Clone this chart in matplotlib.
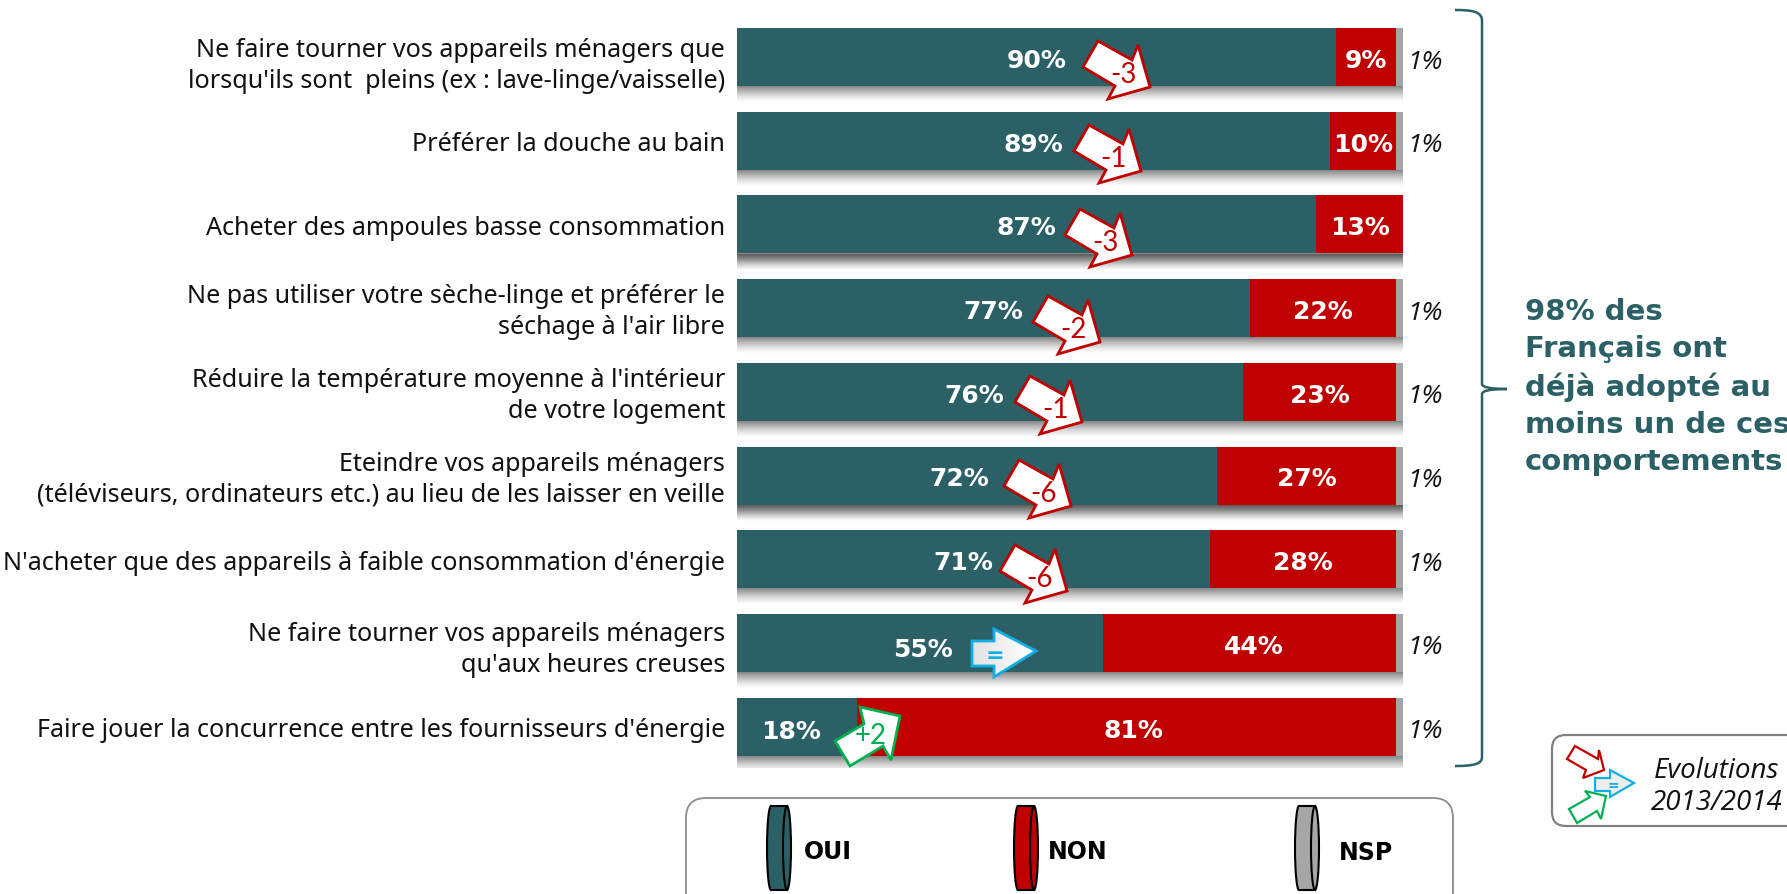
import numpy as np
import matplotlib
matplotlib.use("Agg")
import matplotlib.pyplot as plt
from matplotlib.patches import Polygon, FancyBboxPatch, Ellipse, Rectangle, PathPatch
from matplotlib.path import Path

labels = [
    "Ne faire tourner vos appareils ménagers que\nlorsqu'ils sont  pleins (ex : lave-linge/vaisselle)",
    "Préférer la douche au bain",
    "Acheter des ampoules basse consommation",
    "Ne pas utiliser votre sèche-linge et préférer le\nséchage à l'air libre",
    "Réduire la température moyenne à l'intérieur\nde votre logement",
    "Eteindre vos appareils ménagers\n(téléviseurs, ordinateurs etc.) au lieu de les laisser en veille",
    "N'acheter que des appareils à faible consommation d'énergie",
    "Ne faire tourner vos appareils ménagers\nqu'aux heures creuses",
    "Faire jouer la concurrence entre les fournisseurs d'énergie",
]
oui = [90, 89, 87, 77, 76, 72, 71, 55, 18]
non = [9, 10, 13, 22, 23, 27, 28, 44, 81]
nsp = [1, 1, 0, 1, 1, 1, 1, 1, 1]
evol = ["-3", "-1", "-3", "-2", "-1", "-6", "-6", "=", "+2"]

TEAL = "#2A6066"
RED = "#C00000"
GREY = "#A6A6A6"
BLUE = "#12AEE8"
GREEN = "#00B050"
W, H = 1787, 895
font = "Noto Sans"

fig = plt.figure(figsize=(W / 100, H / 100), dpi=100)

# bars: 0% is at x=737, 100% at x=1403, rows are 83.7px apart
y0 = 29 + 29 - 83.7 / 2
ax = fig.add_axes([737 / W, 1 - (y0 + 9 * 83.7) / H, 666 / W, 9 * 83.7 / H])
ax.set_xlim(0, 100)
ax.set_ylim(8.5, -0.5)
ax.axis("off")
ypos = np.arange(len(oui))
bar_h = 58 / 83.7

# soft shadow under each bar, one pixel strip at a time
for k in range(16):
    ax.barh(ypos + bar_h / 2 + (k + 0.5) / 83.7, 100.4, height=1.2 / 83.7,
            color="#404040", alpha=0.62 * (1 - k / 16) ** 1.4, linewidth=0, zorder=1)
ax.barh(ypos, oui, height=bar_h, color=TEAL, linewidth=0, zorder=2)
ax.barh(ypos, non, left=oui, height=bar_h, color=RED, linewidth=0, zorder=2)
ax.barh(ypos, nsp, left=np.array(oui) + np.array(non), height=bar_h, color=GREY, linewidth=0, zorder=2)

# overlay in pixel coordinates for the annotations
pix = fig.add_axes([0, 0, 1, 1], facecolor="none")
pix.set_xlim(0, W)
pix.set_ylim(H, 0)
pix.axis("off")

label_dy = [5, 0, 0, 0, 0, 0, 0, 3, 0]
for i, lab in enumerate(labels):
    yc = y0 + 83.7 * (i + 0.5)
    pix.text(725, yc + 3 + label_dy[i], lab, ha="right", va="center", fontsize=18.1, family=font, color="#111111", linespacing=1.3)

# value labels, a few sit off centre in the original
oui_dx = [0, 0, 0, 0, -16, -18, -10, 3, -6]
oui_dy = [0, 0, 0, 0, 0, 0, 0, 3, 1]
non_dx = [0, 0, 0, 0, 0, 0, 0, 4, 7]
for i in range(len(oui)):
    yc = y0 + 83.7 * (i + 0.5)
    xo = 737 + 6.66 * oui[i] / 2 + oui_dx[i]
    xn = 737 + 6.66 * (oui[i] + non[i] / 2) + non_dx[i]
    pix.text(xo, yc + 3 + oui_dy[i], f"{oui[i]}%", color="white", weight="bold", fontsize=18, ha="center", va="center")
    pix.text(xn, yc + 3, f"{non[i]}%", color="white", weight="bold", fontsize=18, ha="center", va="center")
    if nsp[i]:
        pix.text(1425, yc + 4, f"{nsp[i]}%", style="italic", fontsize=19, family="Open Sans", color="#111111", ha="center", va="center")

# evolution arrows: outline relative to the tip
down_shape = np.array([[-52, -46], [-18, -27], [-12, -42], [0, 0], [-42, 12], [-35, -1], [-67, -20]], dtype=float)
up_shape = np.array([[0, 0], [40, 9], [31, 53], [23, 39], [-10, 59], [-25, 34], [4, 17]], dtype=float)
right_shape = np.array([[-64, -10], [-42, -10], [-42, -22], [0, 0], [-42, 26], [-42, 15], [-64, 15]], dtype=float)
tip_x = [1150, 1141, 1132, 1100, 1082, 1071, 1067]
tip_y = [88, 172, 256, 343, 423, 507, 592]
for i in range(7):
    pts = down_shape + [tip_x[i], tip_y[i]]
    pix.add_patch(Polygon(pts, closed=True, fc="white", ec=RED, lw=2, zorder=5, joinstyle="miter"))
    pix.text(tip_x[i] - 27, tip_y[i] - 13, evol[i], color=RED, fontsize=20, family="Lato", ha="center", va="center", zorder=6)


def gradient_arrow(pts, edge, lw=2):
    # white to light grey fill clipped to the arrow outline
    poly = Polygon(pts, closed=True, fc="none", ec=edge, lw=lw, zorder=7, joinstyle="miter")
    pix.add_patch(poly)
    xs, ys = pts[:, 0], pts[:, 1]
    g = np.linspace(0.88, 1, 32).reshape(1, -1)
    im = pix.imshow(g, extent=[xs.min(), xs.max(), ys.max(), ys.min()], cmap="gray", vmin=0, vmax=1,
                    aspect="auto", zorder=6)
    im.set_clip_path(poly)
    pix.set_xlim(0, W)
    pix.set_ylim(H, 0)


gradient_arrow(right_shape + [1036, 652], BLUE)
pix.text(995, 656, evol[7], color=BLUE, weight="bold", fontsize=16, ha="center", va="center", zorder=8)
pix.add_patch(Polygon(up_shape + [860, 708], closed=True, fc="white", ec=GREEN, lw=2, zorder=5, joinstyle="miter"))
pix.text(871, 736, evol[8], color=GREEN, fontsize=20, family="Lato", ha="center", va="center", zorder=6)

# brace on the right
verts = [(1455, 11), (1474, 11), (1482, 13), (1482, 22), (1482, 385), (1482, 390), (1507, 390),
         (1482, 390), (1482, 395), (1482, 758), (1482, 765), (1474, 767), (1455, 767)]
codes = [Path.MOVETO, Path.CURVE4, Path.CURVE4, Path.CURVE4, Path.LINETO, Path.CURVE3, Path.CURVE3,
         Path.CURVE3, Path.CURVE3, Path.LINETO, Path.CURVE4, Path.CURVE4, Path.CURVE4]
pix.add_patch(PathPatch(Path(verts, codes), fc="none", ec=TEAL, lw=1.8))
pix.text(1525, 387, "98% des\nFrançais ont\ndéjà adopté au\nmoins un de ces\ncomportements", color=TEAL, weight="bold",
         fontsize=21, ha="left", va="center", linespacing=1.41)

# legend box, runs off the bottom of the picture
pix.add_patch(FancyBboxPatch((686, 799), 767, 120, boxstyle="round,pad=0,rounding_size=20", fc="white", ec="#8C8C8C", lw=1.3))


def disk(x, col):
    pix.add_patch(Ellipse((x, 849), 8, 84, fc=col, ec="black", lw=1.5))
    pix.add_patch(Rectangle((x, 807), 16, 84, fc=col, ec="none"))
    pix.plot([x, x + 16], [807, 807], color="black", lw=1.5)
    pix.plot([x, x + 16], [891, 891], color="black", lw=1.5)
    pix.add_patch(Ellipse((x + 16, 849), 8, 84, fc=col, ec="black", lw=1.5))


disk(771, TEAL)
disk(1018, RED)
disk(1299, GREY)
pix.text(804, 852, "OUI", weight="bold", fontsize=17, va="center", color="black")
pix.text(1048, 852, "NON", weight="bold", fontsize=17, va="center", color="black")
pix.text(1339, 853, "NSP", weight="bold", fontsize=17, va="center", color="black")

# evolutions key
pix.add_patch(FancyBboxPatch((1552, 736), 260, 91, boxstyle="round,pad=0,rounding_size=14", fc="white", ec="#808080", lw=1.6))
key_down = np.array([[1575, 747], [1598, 760], [1599, 751], [1604, 771], [1583, 779], [1586, 771], [1567, 760]], dtype=float)
key_up = np.array([[1606, 797], [1601, 820], [1597, 812], [1577, 824], [1569, 810], [1590, 798], [1585, 792]], dtype=float)
key_right = np.array([[1595, 779], [1610, 779], [1610, 771], [1634, 784], [1610, 798], [1610, 792], [1595, 792]], dtype=float)
pix.add_patch(Polygon(key_down, closed=True, fc="white", ec=RED, lw=1.6, zorder=3))
pix.add_patch(Polygon(key_up, closed=True, fc="white", ec=GREEN, lw=1.6, zorder=3))
pix.add_patch(Polygon(key_right, closed=True, fc="#EEEEEE", ec=BLUE, lw=1.6, zorder=4))
pix.text(1613, 786, "=", color=BLUE, fontsize=10, weight="bold", ha="center", va="center", zorder=5)
pix.text(1717, 771, "Evolutions", style="italic", family="Open Sans", fontsize=20, ha="center", va="center", color="#111111")
pix.text(1717, 803, "2013/2014", style="italic", family="Open Sans", fontsize=20, ha="center", va="center", color="#111111")

plt.savefig("out.png", dpi=100)
